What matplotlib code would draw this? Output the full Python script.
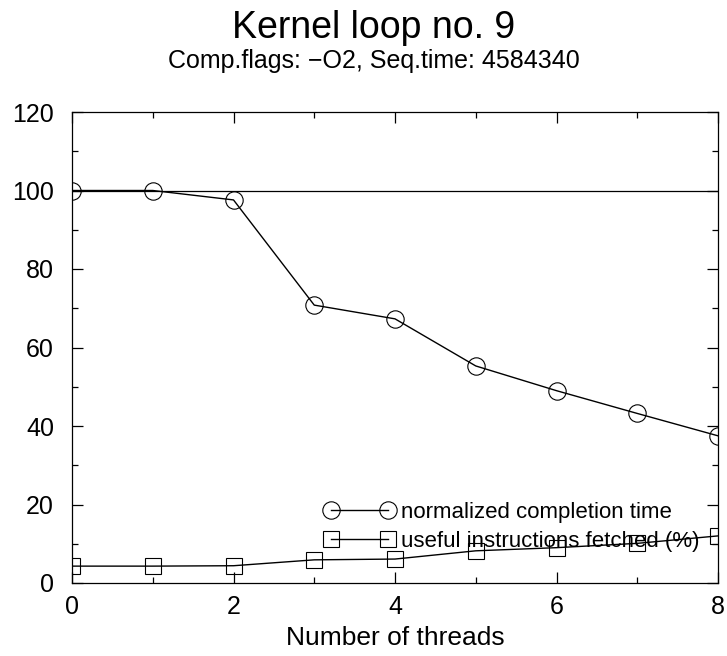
import matplotlib
matplotlib.use("Agg")
import matplotlib.pyplot as plt
from matplotlib.ticker import MultipleLocator

plt.rcParams['font.family'] = ['Liberation Sans', 'DejaVu Sans']

threads = [0, 1, 2, 3, 4, 5, 6, 7, 8]
completion_time = [100.0, 100.0, 97.6, 70.8, 67.3, 55.3, 49.0, 43.2, 37.5]
useful_fetched = [4.3, 4.3, 4.4, 5.9, 6.1, 8.2, 9.0, 10.1, 12.0]
reference_level = 100

title = "Kernel loop no. 9"
subtitle = "Comp.flags: \u2212O2, Seq.time: 4584340"
label_completion = "normalized completion time"
label_useful = "useful instructions fetched (%)"
xlabel = "Number of threads"

fig = plt.figure(figsize=(7.27, 6.56), dpi=100)
ax = fig.add_axes([72/727, 1 - 583/656, (718-72)/727, (583-112)/656])

ax.axhline(reference_level, color='black', lw=0.9)
ax.plot(threads, completion_time, color='black', lw=1.0, marker='o', ms=12.5,
        mfc='none', mec='black', mew=0.8, label=label_completion)
ax.plot(threads, useful_fetched, color='black', lw=1.0, marker='s', ms=11,
        mfc='none', mec='black', mew=0.8, label=label_useful)

ax.set_xlim(0, 8)
ax.set_ylim(0, 120)
ax.xaxis.set_major_locator(MultipleLocator(2))
ax.xaxis.set_minor_locator(MultipleLocator(1))
ax.yaxis.set_major_locator(MultipleLocator(20))
ax.yaxis.set_minor_locator(MultipleLocator(10))
ax.tick_params(which='both', direction='in', top=True, right=True, width=0.9,
               labelsize=18)
ax.tick_params(axis='x', which='major', pad=9)
ax.tick_params(axis='y', which='major', pad=13)
ax.tick_params(which='major', length=8)
ax.tick_params(which='minor', length=4)
for s in ax.spines.values():
    s.set_linewidth(0.9)

ax.set_xlabel(xlabel, fontsize=19, labelpad=5)

fig.text(374/727, 1 - 28/656, title, ha='center', va='center', fontsize=27)
fig.text(374/727, 1 - 61/656, subtitle, ha='center', va='center', fontsize=18)

leg = ax.legend(loc='upper left', bbox_to_anchor=((324-72)/646, (583-502)/471),
                frameon=False, fontsize=16, numpoints=2, handlelength=3.17,
                handletextpad=0.3, borderpad=0, borderaxespad=0, labelspacing=0.35)

fig.savefig("out.png", dpi=100)
